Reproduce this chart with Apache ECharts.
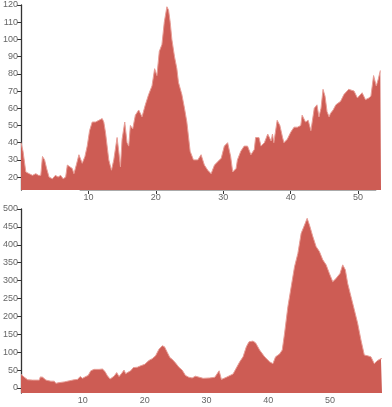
<!DOCTYPE html>
<html>
<head>
<meta charset="utf-8">
<script src="https://cdn.jsdelivr.net/npm/echarts@6/dist/echarts.min.js"></script>
<style>html,body{margin:0;padding:0;background:#fff}#c{width:392px;height:407px}</style>
</head>
<body>
<div id="c"></div>
<script>
const topX = [0,0.3,0.71,1.2,1.7,2.2,2.6,2.93,3.18,3.5,3.8,4.16,4.65,5.1,5.5,5.88,6.25,6.62,6.87,7.11,7.6,7.85,8.2,8.59,9.08,9.48,9.82,10.17,10.56,11.05,11.55,12.04,12.28,12.53,13.02,13.42,13.76,14.25,14.5,14.75,14.99,15.39,15.73,15.98,16.22,16.57,16.96,17.46,17.95,18.44,18.93,19.43,19.82,20.16,20.51,20.9,21.25,21.64,21.89,22.13,22.38,22.77,23.12,23.36,23.86,24.25,24.6,25.09,25.58,26.22,26.71,27.2,27.7,28.2,28.7,29.2,29.7,30.16,30.65,31.1,31.4,31.9,32.1,32.6,33.1,33.6,34.1,34.6,34.8,35.3,35.6,36.1,36.6,37.1,37.3,37.5,38.0,38.4,38.8,39.0,39.5,40.0,40.5,41.0,41.5,41.7,42.2,42.6,43.0,43.5,43.9,44.2,44.5,44.8,45.1,45.4,45.7,45.9,46.3,46.7,46.9,47.4,47.9,48.6,49.4,49.9,50.6,51.1,51.6,51.9,52.3,52.7,53.0,53.3,53.4];
const topY = [40,35,23,22,21,22,21,21,32,30,25,20,19,21,20,21,19,20,27,28,25,22,27,33,28,32,38,47,52,52,53,54,52,46,30,24,30,43,35,26,42,52,40,38,50,48,56,59,55,62,68,73,83,79,93,97,110,119,117,110,100,90,83,75,68,60,52,35,30,30,33,27,24,22,27,29,31,38,40,32,23,25,30,35,38,38,33,36,43,43,38,40,45,41,45,40,53,50,43,40,42,46,49,49,50,56,52,53,47,60,62,55,60,71,67,58,55,57,59,62,61,64,68,71,70,66,69,65,66,67,79,73,77,82,82];

const botX = [0,0.54,1.08,1.88,2.42,2.96,3.12,3.5,4.03,4.3,4.84,5.38,5.64,6.18,6.99,7.8,8.06,8.6,9.14,9.57,9.95,10.48,10.86,11.29,11.83,12.63,13.17,13.55,13.98,14.41,15.05,15.48,15.86,16.24,16.67,16.93,17.31,17.74,18.17,18.82,19.35,20.0,20.7,21.24,21.77,22.31,22.85,23.22,23.65,24.08,24.46,25.0,25.54,26.07,26.61,27.15,27.69,28.22,28.39,29.46,30.54,31.35,32.05,32.42,33.23,34.3,35.38,35.92,36.45,36.88,37.53,37.96,38.6,39.41,40.22,40.75,41.18,41.83,42.26,42.64,43.17,43.71,44.25,44.79,45.32,45.86,46.29,46.67,47.21,47.74,48.28,48.82,49.36,49.89,50.43,50.97,51.61,52.04,52.47,52.85,53.39,53.93,54.46,55.0,55.54,56.08,56.61,57.15,57.69,58.23,58.4];
const botY = [38,30,23,22,22,22,31,30,22,20,19,19,13,15,17,20,25,23,24,32,27,32,35,48,52,52,53,47,34,25,33,43,32,40,50,40,44,48,57,58,62,66,77,82,90,108,118,115,100,85,80,70,58,50,35,30,28,33,28,27,28,30,48,24,30,39,73,87,115,129,131,126,106,87,73,68,87,95,106,153,227,283,339,376,432,455,474,455,423,395,381,358,344,320,297,306,320,344,330,292,255,218,181,134,92,90,87,68,77,82,82];

const xTicks = [10,20,30,40,50];
const topYTicks = [20,30,40,50,60,70,80,90,100,110,120];
const botYTicks = [0,50,100,150,200,250,300,350,400,450,500];

const topXRange = [0, 53.4];
const botXRange = [0, 58.4];
const topYRange = [12.5, 120];
const botYRange = [-14, 500];
const topAxisLineSpan = [8.7, 52.7];

const fill = '#cd5c54';
const edge = '#e79d96';
const labelStyle = {color:'#666', fontSize:9, fontFamily:'Liberation Sans, Arial, sans-serif'};

const chart = echarts.init(document.getElementById('c'), null, {renderer:'canvas'});

function xAxisOpt(idx, range) {
  return {
    type:'value', gridIndex: idx, min: range[0], max: range[1],
    axisLine:{show:false},
    axisTick:{show:true, length:4, lineStyle:{color:'#333'}, customValues: xTicks},
    axisLabel:Object.assign({margin:3, customValues: xTicks}, labelStyle),
    splitLine:{show:false}
  };
}
function yAxisOpt(idx, range, ticks) {
  return {
    type:'value', gridIndex: idx, min: range[0], max: range[1],
    axisLine:{show:true, lineStyle:{color:'#333', width:1.3}},
    axisTick:{show:true, length:4, lineStyle:{color:'#333'}, customValues: ticks},
    axisLabel:Object.assign({margin:3, customValues: ticks}, labelStyle),
    splitLine:{show:false}
  };
}

chart.setOption({
  animation:false,
  grid:[
    {left:19, right:11, top:5, bottom:217, containLabel:false},
    {left:20, right:10, top:209, bottom:14, containLabel:false}
  ],
  xAxis:[xAxisOpt(0, topXRange), xAxisOpt(1, botXRange)],
  yAxis:[yAxisOpt(0, topYRange, topYTicks), yAxisOpt(1, botYRange, botYTicks)],
  series:[
    {
      type:'line', xAxisIndex:0, yAxisIndex:0, symbol:'none',
      data: topX.map((x,i)=>[x, topY[i]]),
      lineStyle:{color:edge, width:1},
      areaStyle:{color:fill, opacity:1, origin:'start'},
      markLine:{
        silent:true, symbol:['none','none'], label:{show:false},
        lineStyle:{color:'#aaa', type:'solid', width:1},
        data:[[{coord:[topAxisLineSpan[0], topYRange[0]]},{coord:[topAxisLineSpan[1], topYRange[0]]}]]
      }
    },
    {
      type:'line', xAxisIndex:1, yAxisIndex:1, symbol:'none',
      data: botX.map((x,i)=>[x, botY[i]]),
      lineStyle:{color:edge, width:1},
      areaStyle:{color:fill, opacity:1, origin:'start'}
    }
  ]
});
</script>
</body>
</html>
